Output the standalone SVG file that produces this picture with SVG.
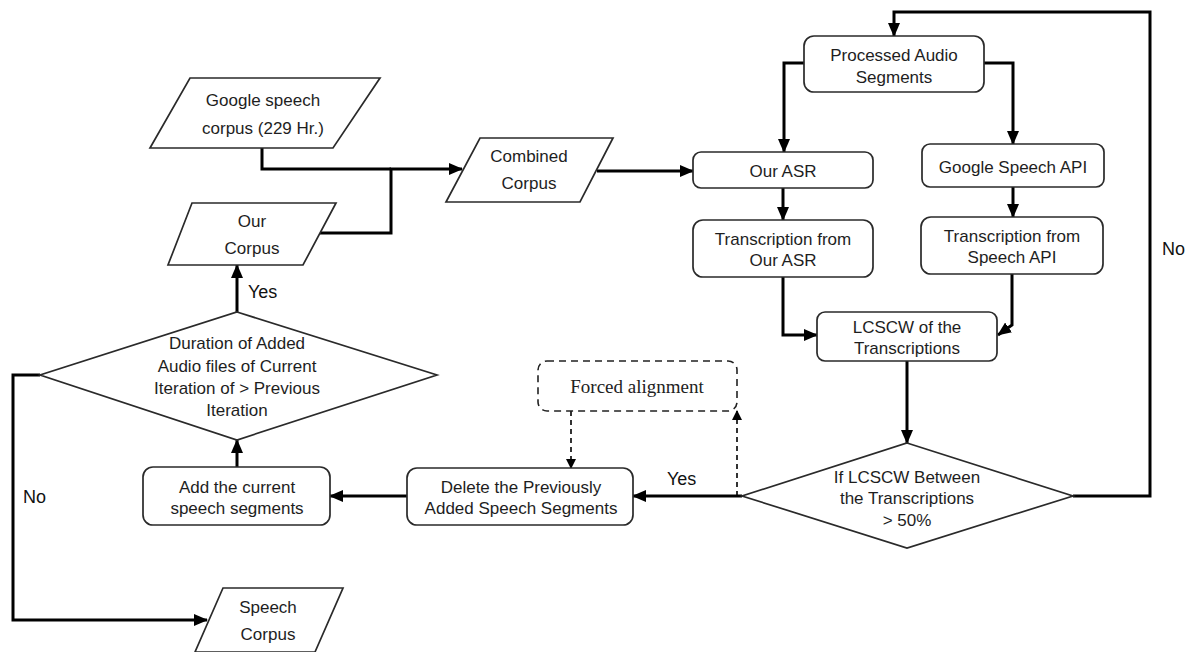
<svg xmlns="http://www.w3.org/2000/svg" width="1192" height="652" viewBox="0 0 1192 652">
  <defs>
    <marker id="arr" markerUnits="userSpaceOnUse" markerWidth="14" markerHeight="12" refX="13" refY="6" orient="auto">
      <path d="M0,0 L14,6 L0,12 Z" fill="#000"/>
    </marker>
    <marker id="arrs" markerUnits="userSpaceOnUse" markerWidth="10" markerHeight="10" refX="9" refY="5" orient="auto">
      <path d="M0,0 L10,5 L0,10 Z" fill="#000"/>
    </marker>
  </defs>
  <style>
    .box { fill: #fff; stroke: #2a2a2a; stroke-width: 1.7; }
    .dash { fill: #fff; stroke: #222; stroke-width: 1.6; stroke-dasharray: 7 5; }
    .t { font-family: "Liberation Sans", Arial, sans-serif; font-size: 17px; fill: #1e1e1e; text-anchor: middle; }
    .lbl { font-family: "Liberation Sans", Arial, sans-serif; font-size: 18px; fill: #111; }
    .serif { font-family: "Liberation Serif", "Times New Roman", serif; font-size: 19px; fill: #222; text-anchor: middle; }
    .c { fill: none; stroke: #000; stroke-width: 3; marker-end: url(#arr); }
    .cn { fill: none; stroke: #000; stroke-width: 3; }
    .cd { fill: none; stroke: #000; stroke-width: 1.6; stroke-dasharray: 5 4; marker-end: url(#arrs); }
  </style>
  <rect width="1192" height="652" fill="#fff"/>

  <!-- connectors -->
  <g id="connectors">
    <path class="cn" d="M262,148 V169 H391"/>
    <path class="c" d="M320,233 H391 V169 H462"/>
    <path class="c" d="M597,171 H693"/>
    <path class="c" d="M804,63 H784 V152"/>
    <path class="c" d="M984,63 H1013 V144"/>
    <path class="c" d="M783,188 V220"/>
    <path class="c" d="M1013,187 V217"/>
    <path class="c" d="M783,277 V335 H817"/>
    <path class="c" d="M1012,274 V325 L998,335"/>
    <path class="c" d="M907,361 V443"/>
    <path class="c" d="M1073,496 H1150 V12 H894 V36"/>
    <path class="c" d="M742,496 H633"/>
    <path class="cd" d="M737,496 V411"/>
    <path class="cd" d="M571,411 V468"/>
    <path class="c" d="M407,496 H330"/>
    <path class="c" d="M237,467 V440"/>
    <path class="c" d="M237,312 V265"/>
    <path class="c" d="M40,375 H13 V620 H207"/>
    <text class="lbl" x="1162" y="255">No</text>
    <text class="lbl" x="667" y="485">Yes</text>
    <text class="lbl" x="248" y="298">Yes</text>
    <text class="lbl" x="23" y="503">No</text>
  </g>

  <g id="google-corpus">
    <polygon class="box" points="190,78 380,78 333,148 150,148"/>
    <text class="t" x="263" y="106">Google speech</text>
    <text class="t" x="263" y="134">corpus (229 Hr.)</text>
  </g>

  <g id="our-corpus">
    <polygon class="box" points="192,203 336,203 303,265 168,265"/>
    <text class="t" x="252" y="227">Our</text>
    <text class="t" x="252" y="254">Corpus</text>
  </g>

  <g id="combined-corpus">
    <polygon class="box" points="480,138 613,138 580,202 446,202"/>
    <text class="t" x="529" y="162">Combined</text>
    <text class="t" x="529" y="189">Corpus</text>
  </g>

  <g id="processed-audio">
    <rect class="box" x="804" y="36" width="180" height="56" rx="10"/>
    <text class="t" x="894" y="61">Processed Audio</text>
    <text class="t" x="894" y="83">Segments</text>
  </g>

  <g id="our-asr">
    <rect class="box" x="693" y="152" width="180" height="36" rx="8"/>
    <text class="t" x="783" y="177">Our ASR</text>
  </g>

  <g id="google-api">
    <rect class="box" x="922" y="144" width="182" height="43" rx="8"/>
    <text class="t" x="1013" y="173">Google Speech API</text>
  </g>

  <g id="trans-asr">
    <rect class="box" x="693" y="220" width="180" height="57" rx="10"/>
    <text class="t" x="783" y="245">Transcription from</text>
    <text class="t" x="783" y="266">Our ASR</text>
  </g>

  <g id="trans-api">
    <rect class="box" x="921" y="217" width="182" height="57" rx="10"/>
    <text class="t" x="1012" y="242">Transcription from</text>
    <text class="t" x="1012" y="263">Speech API</text>
  </g>

  <g id="lcscw">
    <rect class="box" x="817" y="312" width="180" height="49" rx="8"/>
    <text class="t" x="907" y="333">LCSCW of the</text>
    <text class="t" x="907" y="354">Transcriptions</text>
  </g>

  <g id="decision-lcscw">
    <polygon class="box" points="907,443 1073,496 907,548 742,496"/>
    <text class="t" x="907" y="483">If LCSCW Between</text>
    <text class="t" x="907" y="504">the Transcriptions</text>
    <text class="t" x="907" y="526">&gt; 50%</text>
  </g>

  <g id="forced-alignment">
    <rect class="dash" x="538" y="361" width="199" height="50" rx="9"/>
    <text class="serif" x="637" y="393">Forced alignment</text>
  </g>

  <g id="delete-segments">
    <rect class="box" x="407" y="468" width="226" height="57" rx="10"/>
    <text class="t" x="521" y="493">Delete the Previously</text>
    <text class="t" x="521" y="514">Added Speech Segments</text>
  </g>

  <g id="add-segments">
    <rect class="box" x="143" y="467" width="187" height="58" rx="10"/>
    <text class="t" x="237" y="493">Add the current</text>
    <text class="t" x="237" y="514">speech segments</text>
  </g>

  <g id="decision-duration">
    <polygon class="box" points="237,312 437,375 237,440 40,375"/>
    <text class="t" x="237" y="349">Duration of Added</text>
    <text class="t" x="237" y="372">Audio files of Current</text>
    <text class="t" x="237" y="394">Iteration of &gt; Previous</text>
    <text class="t" x="237" y="416">Iteration</text>
  </g>

  <g id="speech-corpus">
    <polygon class="box" points="223,588 343,588 315,652 195,652"/>
    <text class="t" x="268" y="613">Speech</text>
    <text class="t" x="268" y="640">Corpus</text>
  </g>
</svg>
